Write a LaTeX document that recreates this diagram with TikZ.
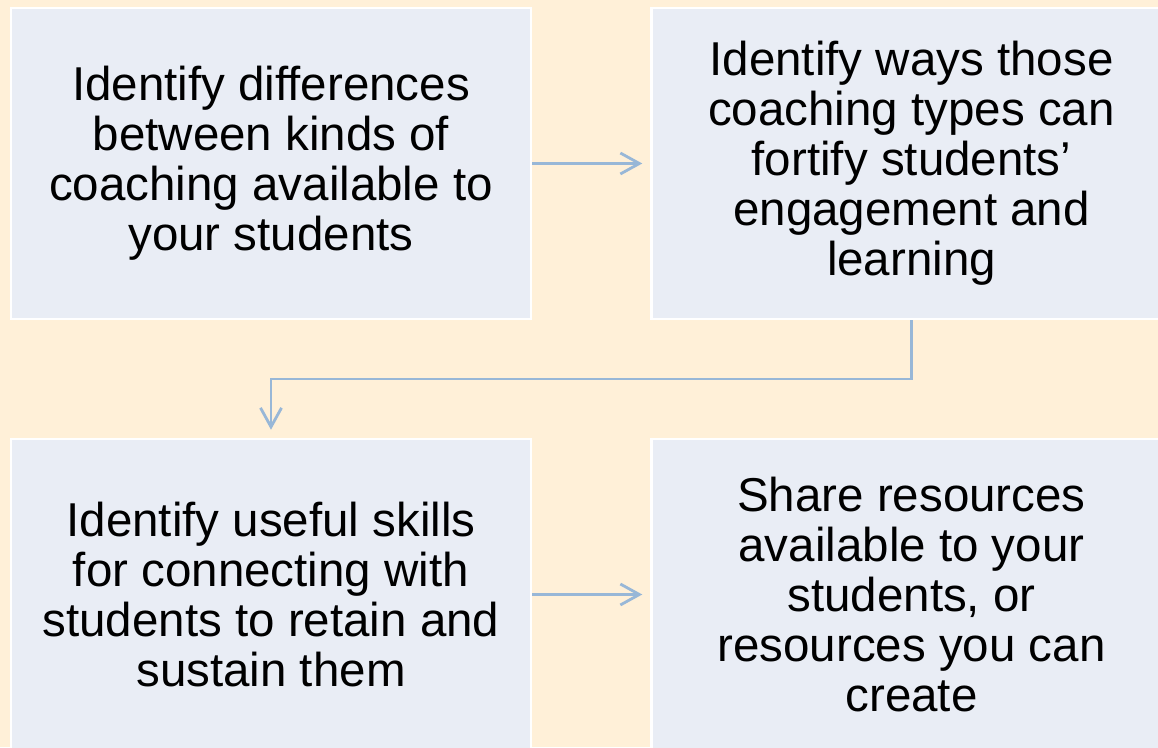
\documentclass[tikz,border=0pt]{standalone}
\usepackage{fontspec}
\setmainfont{Liberation Sans}
\usetikzlibrary{arrows.meta}
\definecolor{pagebg}{RGB}{255,240,216}
\definecolor{boxfill}{RGB}{233,237,245}
\definecolor{linkblue}{RGB}{152,183,215}
\tikzset{
  stepbox/.style={draw=white, line width=2.5pt, fill=boxfill,
    minimum width=520pt, minimum height=311pt, inner sep=0pt,
    align=center, font=\fontsize{47.5pt}{50pt}\selectfont},
  conn/.style={draw=linkblue, line width=2.8pt,
    -{Straight Barb[length=19pt,width=21pt,line width=2.8pt]},
    shorten >=8pt}
}
\begin{document}
\begin{tikzpicture}[x=1pt,y=1pt]
  \fill[pagebg] (0,0) rectangle (1158,747);
  \useasboundingbox (0,0) rectangle (1158,747);

  \node[stepbox] (b1) at (271,583.5)
    {Identify differences\\between kinds of\\coaching available to\\your students};
  \node[stepbox] (b2) at (911.5,583.5)
    {Identify ways those\\coaching types can\\fortify students’\\engagement and\\learning};
  \node[stepbox] (b3) at (271,152.5)
    {Identify useful skills\\for connecting with\\students to retain and\\sustain them};
  \node[stepbox] (b4) at (911.5,152.5)
    {Share resources\\available to your\\students, or\\resources you can\\create};

  \coordinate (bend) at (911,368);
  \draw[conn] (b1.east) -- (b2.west);
  \draw[conn] (b2.south) -- (b2.south |- bend) -| (b3.north);
  \draw[conn] (b3.east) -- (b4.west);
\end{tikzpicture}
\end{document}
